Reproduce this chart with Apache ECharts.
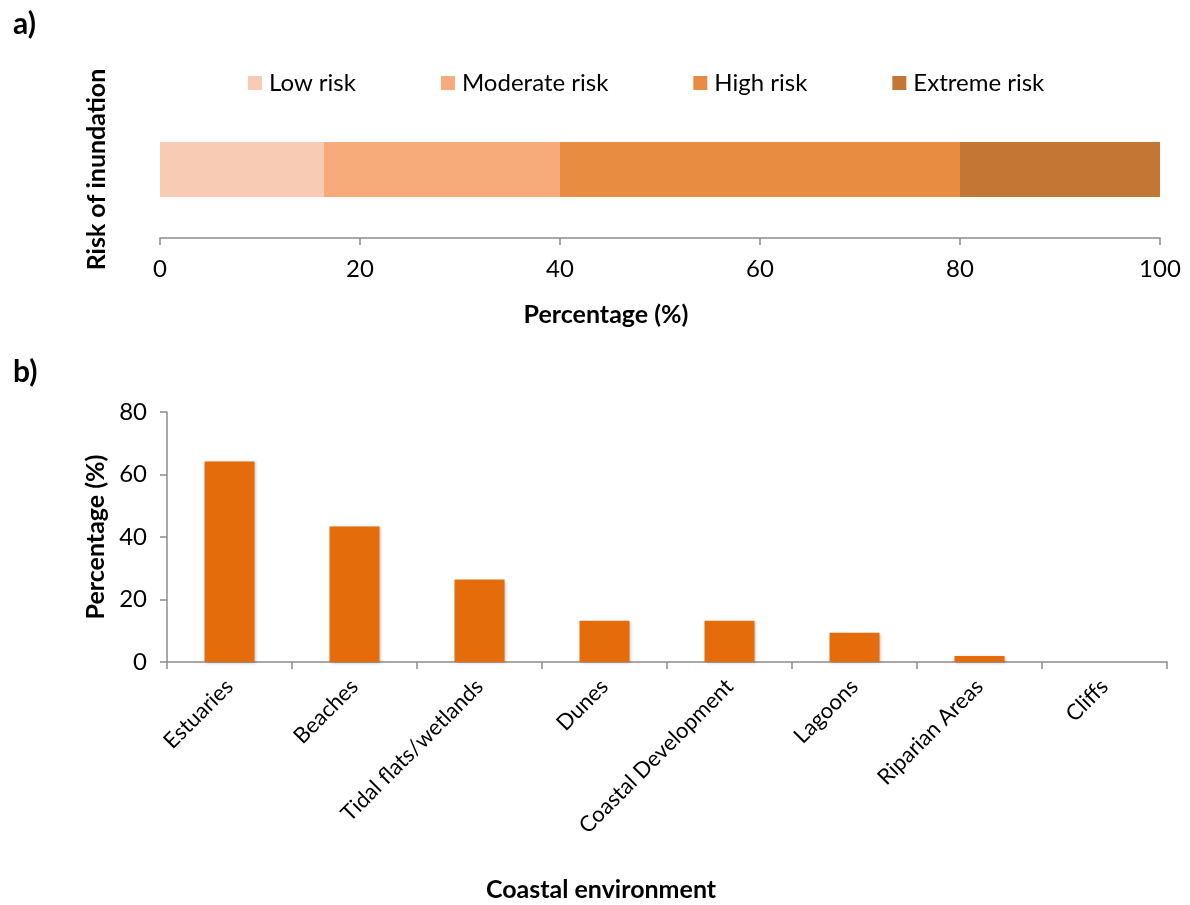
<!DOCTYPE html>
<html>
<head>
<meta charset="utf-8">
<script src="https://cdn.jsdelivr.net/npm/echarts@6/dist/echarts.min.js"></script>
<style>
  html, body { margin: 0; padding: 0; background: #fff; }
  #chart { width: 1190px; height: 905px; }
</style>
</head>
<body>
<div id="chart"></div>
<script>
// Panel a: share of sites per inundation risk class (stacked to 100 %)
const riskClasses = ['Low risk', 'Moderate risk', 'High risk', 'Extreme risk'];
const riskValues = [16.4, 23.6, 40.0, 20.0];
const riskColors = ['#F8CBB4', '#F7AB7A', '#E88C41', '#C47635'];
const riskTicks = [0, 20, 40, 60, 80, 100];

// Panel b: share of sites per coastal environment
const environments = ['Estuaries', 'Beaches', 'Tidal flats/wetlands', 'Dunes',
  'Coastal Development', 'Lagoons', 'Riparian Areas', 'Cliffs'];
const envValues = [64.2, 43.4, 26.4, 13.2, 13.2, 9.4, 1.9, 0];
const envTicks = [0, 20, 40, 60, 80];

const FONT = 'Lato, "Open Sans", sans-serif';
const AXIS_GREY = '#8c8c8c';
const TICK_SIZE = 24;
const NAME_STYLE = { fontFamily: FONT, fontSize: 25, fontWeight: 'bold', color: '#000' };

const chart = echarts.init(document.getElementById('chart'), null, { renderer: 'canvas' });

const riskSeries = riskClasses.map((name, i) => ({
  name: name,
  type: 'bar',
  stack: 'risk',
  xAxisIndex: 0,
  yAxisIndex: 0,
  barWidth: 55,
  itemStyle: { color: riskColors[i] },
  emphasis: { disabled: true },
  data: [riskValues[i]]
}));

chart.setOption({
  animation: false,
  textStyle: { fontFamily: FONT },
  title: [
    { text: 'a)', left: 8, top: 4, textStyle: { fontFamily: FONT, fontSize: 30, fontWeight: 'bold', color: '#000' } },
    { text: 'b)', left: 8, top: 352, textStyle: { fontFamily: FONT, fontSize: 30, fontWeight: 'bold', color: '#000' } }
  ],
  legend: {
    data: riskClasses,
    left: 243,
    top: 66,
    itemWidth: 14,
    itemHeight: 14,
    itemGap: 85,
    icon: 'rect',
    textStyle: { fontFamily: FONT, fontSize: 24, color: '#000', padding: [0, 0, 0, 2] },
    selectedMode: false
  },
  grid: [
    { left: 160, right: 30, top: 101, bottom: 905 - 238 },
    { left: 167, right: 23, top: 412, bottom: 905 - 662 }
  ],
  xAxis: [
    {
      gridIndex: 0,
      type: 'value',
      min: riskTicks[0],
      max: riskTicks[riskTicks.length - 1],
      interval: riskTicks[1] - riskTicks[0],
      name: 'Percentage (%)',
      nameLocation: 'middle',
      nameGap: 64,
      nameTextStyle: Object.assign({}, NAME_STYLE, { padding: [0, 108, 0, 0] }),
      axisLine: { show: true, lineStyle: { color: AXIS_GREY, width: 1.5 } },
      axisTick: { show: true, length: 7, inside: false, lineStyle: { color: AXIS_GREY, width: 1.5 } },
      axisLabel: { fontFamily: FONT, fontSize: TICK_SIZE, color: '#000', margin: 19 },
      splitLine: { show: false }
    },
    {
      gridIndex: 1,
      type: 'category',
      data: environments,
      name: 'Coastal environment',
      nameLocation: 'middle',
      nameGap: 215,
      nameTextStyle: Object.assign({}, NAME_STYLE, { padding: [0, 132, 0, 0] }),
      axisLine: { show: true, lineStyle: { color: AXIS_GREY, width: 1.5 } },
      axisTick: { show: true, length: 7, alignWithLabel: false, lineStyle: { color: AXIS_GREY, width: 1.5 } },
      axisLabel: { fontFamily: FONT, fontSize: 22, color: '#000', rotate: 45, margin: 21, interval: 0 }
    }
  ],
  yAxis: [
    {
      gridIndex: 0,
      type: 'category',
      data: ['Risk'],
      name: 'Risk of inundation',
      nameLocation: 'middle',
      nameGap: 51,
      nameTextStyle: NAME_STYLE,
      axisLine: { show: false },
      axisTick: { show: false },
      axisLabel: { show: false }
    },
    {
      gridIndex: 1,
      type: 'value',
      min: envTicks[0],
      max: envTicks[envTicks.length - 1],
      interval: envTicks[1] - envTicks[0],
      name: 'Percentage (%)',
      nameLocation: 'middle',
      nameGap: 58,
      nameTextStyle: NAME_STYLE,
      axisLine: { show: true, lineStyle: { color: AXIS_GREY, width: 1.5 } },
      axisTick: { show: true, length: 7, lineStyle: { color: AXIS_GREY, width: 1.5 } },
      axisLabel: { fontFamily: FONT, fontSize: TICK_SIZE, color: '#000', margin: 20 },
      splitLine: { show: false }
    }
  ],
  series: riskSeries.concat([
    {
      name: 'Coastal environment',
      type: 'bar',
      xAxisIndex: 1,
      yAxisIndex: 1,
      barWidth: 50,
      itemStyle: {
        color: '#E46C0B',
        shadowColor: 'rgba(0,0,0,0.25)',
        shadowBlur: 3,
        shadowOffsetX: 1,
        shadowOffsetY: 1
      },
      emphasis: { disabled: true },
      data: envValues
    }
  ])
});
</script>
</body>
</html>
